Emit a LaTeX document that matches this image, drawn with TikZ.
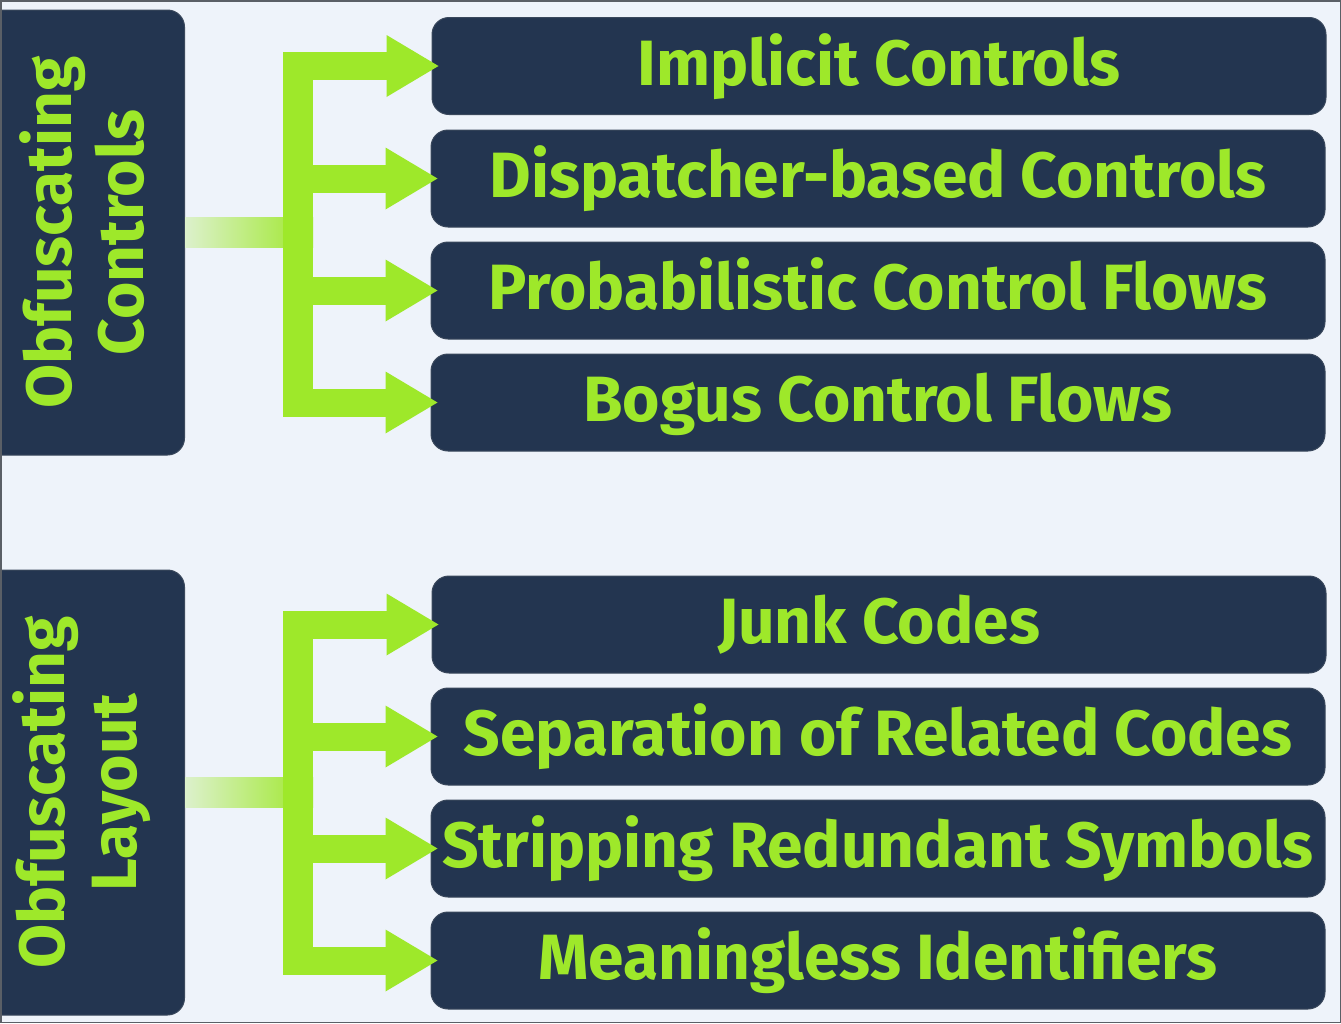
\documentclass[tikz,border=0pt]{standalone}
\usepackage{fontspec}
\setmainfont{Fira Sans}
\usetikzlibrary{arrows.meta,calc}
\definecolor{bg}{HTML}{EEF3FA}
\definecolor{navy}{HTML}{233550}
\definecolor{lime}{HTML}{9EE82A}
\definecolor{frame}{HTML}{5A5F66}
\begin{document}
\begin{tikzpicture}[x=1pt,y=-1pt,
  font=\bfseries\fontsize{64}{72}\selectfont,
  rbox/.style={rectangle, rounded corners=17pt, fill=navy, draw=navy!75!gray, line width=1pt,
    minimum width=894pt, minimum height=97pt, inner sep=0pt, text=lime,
    text height=45pt, text depth=7pt},
  lbox/.style={rectangle, rounded corners=17pt, fill=navy, draw=navy!75!gray, line width=1pt,
    rotate=90, minimum width=445pt, minimum height=205pt, inner sep=0pt,
    text=lime, align=center},
  branch/.style={lime, line width=28pt, -{Triangle[width=62pt,length=52pt,line width=0pt]}, shorten >=-7pt},
  trunk/.style={fill=lime},
  stem/.style={left color=lime!22!bg, right color=lime}
]
\useasboundingbox (0,0) rectangle (1341,1023);
\fill[bg] (0,0) rectangle (1341,1023);

% ---- group 1
\node[lbox] (L1) at (82,232.5) {Obfuscating\\Controls};
\node[rbox] (c1) at (879,66)    {Implicit Controls};
\node[rbox] (c2) at (878,178.5) {Dispatcher-based Controls};
\node[rbox] (c3) at (878,290.5) {Probabilistic Control Flows};
\node[rbox] (c4) at (878,402.5) {Bogus Control Flows};
\coordinate (tl1) at (283,232.5);
\coordinate (tr1) at (313,232.5);
\shade[stem] ($(L1.south)+(0,-15)$) rectangle ($(tr1 |- L1.south)+(0,15)$);
\fill[trunk] ($(tl1 |- c1.west)+(0,-14)$) rectangle ($(tr1 |- c4.west)+(0,10)$);
\foreach \n in {c1,c2,c3,c4} \draw[branch] (tl1 |- \n.west) -- (\n.west);

% ---- group 2
\node[lbox] (L2) at (82,792.5) {Obfuscating\\Layout};
\node[rbox] (d1) at (879,624.5) {Junk Codes};
\node[rbox] (d2) at (878,736.5) {Separation of Related Codes};
\node[rbox] (d3) at (878,848.5) {Stripping Redundant Symbols};
\node[rbox] (d4) at (878,960.5) {Meaningless Identifiers};
\coordinate (tl2) at (283,792.5);
\coordinate (tr2) at (313,792.5);
\shade[stem] ($(L2.south)+(0,-15)$) rectangle ($(tr2 |- L2.south)+(0,15)$);
\fill[trunk] ($(tl2 |- d1.west)+(0,-12)$) rectangle ($(tr2 |- d4.west)+(0,12)$);
\foreach \n in {d1,d2,d3,d4} \draw[branch] (tl2 |- \n.west) -- (\n.west);

\draw[frame, line width=1.5pt] (0.75,0.75) rectangle (1340.25,1022.25);
\end{tikzpicture}
\end{document}
